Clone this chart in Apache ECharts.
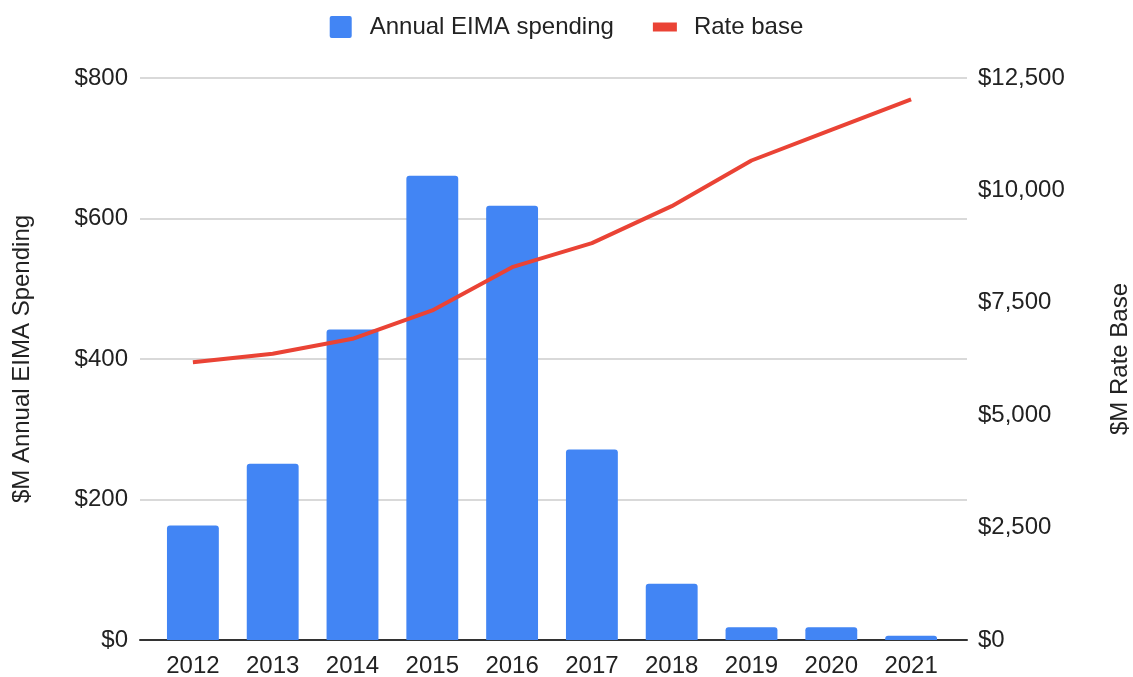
<!DOCTYPE html>
<html>
<head>
<meta charset="utf-8">
<script src="https://cdn.jsdelivr.net/npm/echarts@6/dist/echarts.min.js"></script>
<style>
  html, body { margin: 0; padding: 0; background: #fff; }
  #chart { width: 1133px; height: 677px; }
</style>
</head>
<body>
<div id="chart"></div>
<script>
// years on the x axis
var years = ['2012', '2013', '2014', '2015', '2016', '2017', '2018', '2019', '2020', '2021'];
// $M annual EIMA spending (bars, left axis)
var spending = [163, 251, 442, 661, 618, 271, 80, 18, 18, 6];
// $M rate base (line, right axis)
var rateBase = [6180, 6366, 6699, 7329, 8292, 8826, 9649, 10665, 11348, 12022];

var FONT = '"Liberation Sans", Arial, sans-serif';
var TEXT = '#222222';

function money(v) {
    return '$' + v.toLocaleString('en-US');
}

var myChart = echarts.init(document.getElementById('chart'));
var option = {
    animation: false,
    textStyle: { fontFamily: FONT, color: TEXT },
    legend: {
        top: 10,
        left: 'center',
        itemWidth: 24,
        itemHeight: 22,
        itemGap: 39,
        textStyle: { fontFamily: FONT, fontSize: 24, color: TEXT, padding: [0, 0, 0, 12] },
        data: [
            { name: 'Annual EIMA spending', icon: 'path://M2,0 H20 Q22,0 22,2 V20 Q22,22 20,22 H2 Q0,22 0,20 V2 Q0,0 2,0 Z' },
            { name: 'Rate base', icon: 'path://M0,0 H24 V9 H0 Z' }
        ]
    },
    // grid 0: gridlines, axis line and value labels; grid 1: the marks (padded inside)
    grid: [
        { left: 140, right: 166, top: 78, bottom: 37, outerBoundsMode: 'none' },
        { left: 153, right: 182, top: 78, bottom: 37, outerBoundsMode: 'none' }
    ],
    xAxis: [
        {
            type: 'category',
            gridIndex: 0,
            data: years,
            axisLine: { lineStyle: { color: '#333333', width: 2 } },
            axisTick: { show: false },
            axisLabel: { show: false }
        },
        {
            type: 'category',
            gridIndex: 1,
            data: years,
            axisLine: { show: false },
            axisTick: { show: false },
            axisLabel: { fontFamily: FONT, fontSize: 24, color: TEXT, margin: 14 }
        }
    ],
    yAxis: [
        {
            type: 'value',
            gridIndex: 0,
            min: 0,
            max: 800,
            interval: 200,
            name: '$M Annual EIMA Spending',
            nameLocation: 'middle',
            nameRotate: 90,
            nameGap: 106,
            nameTextStyle: { fontFamily: FONT, fontSize: 24, color: TEXT },
            axisLine: { show: false },
            axisTick: { show: false },
            axisLabel: { fontFamily: FONT, fontSize: 24, color: TEXT, margin: 12, formatter: money },
            splitLine: { lineStyle: { color: '#cccccc', width: 1.5 } }
        },
        {
            type: 'value',
            gridIndex: 0,
            min: 0,
            max: 12500,
            interval: 2500,
            position: 'right',
            name: '$M Rate Base',
            nameLocation: 'middle',
            nameRotate: 90,
            nameGap: 141,
            nameTextStyle: { fontFamily: FONT, fontSize: 24, color: TEXT },
            axisLine: { show: false },
            axisTick: { show: false },
            axisLabel: { fontFamily: FONT, fontSize: 24, color: TEXT, margin: 11, formatter: money },
            splitLine: { show: false }
        },
        {
            type: 'value',
            gridIndex: 1,
            min: 0,
            max: 800,
            show: false
        },
        {
            type: 'value',
            gridIndex: 1,
            min: 0,
            max: 12500,
            position: 'right',
            show: false
        }
    ],
    series: [
        {
            name: 'Annual EIMA spending',
            type: 'bar',
            xAxisIndex: 1,
            yAxisIndex: 2,
            barCategoryGap: '35%',
            itemStyle: { color: '#4285F4', borderRadius: [3, 3, 0, 0] },
            data: spending
        },
        {
            name: 'Rate base',
            type: 'line',
            xAxisIndex: 1,
            yAxisIndex: 3,
            symbol: 'none',
            lineStyle: { color: '#EA4335', width: 4 },
            itemStyle: { color: '#EA4335' },
            z: 3,
            data: rateBase
        }
    ]
};
myChart.setOption(option);
</script>
</body>
</html>
